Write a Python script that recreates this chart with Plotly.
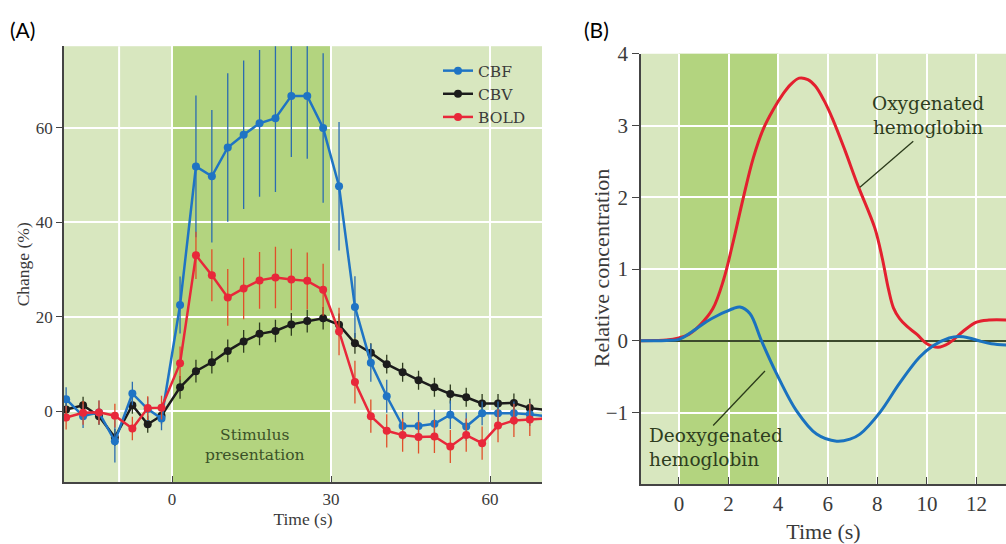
import plotly.graph_objects as go

# ---------------- Panel A data ----------------
time_a = [-20, -16.8, -13.8, -10.8, -7.5, -4.6, -2, 1.5, 4.5, 7.5, 10.5, 13.5, 16.5, 19.5,
          22.5, 25.5, 28.5, 31.5, 34.5, 37.5, 40.5, 43.5, 46.5, 49.5, 52.5, 55.5, 58.5,
          61.5, 64.5, 67.5, 70.5]
cbf = [2.6, -1.0, -0.2, -6.3, 3.8, 0.5, -1.5, 22.5, 51.8, 49.7, 55.8, 58.5, 60.9, 62.0,
       66.7, 66.7, 59.9, 47.6, 22.1, 10.3, 3.2, -3.1, -3.1, -2.6, -0.7, -3.2, -0.4,
       -0.4, -0.4, -0.6, -1.0]
cbf_err = [2.5, 2.5, 2.5, 4.5, 2.5, 2.5, 2.5, 6, 15, 14, 15.7, 15.7, 15.5, 15.6,
           12.9, 13.3, 15.8, 13.6, 6.5, 4, 3.5, 3, 3, 3, 3, 3, 2.5, 2.5, 2.5, 2.5, 2.5]
cbv = [0.4, 1.3, -1.0, -5.5, 1.3, -2.7, -0.9, 5.1, 8.5, 10.4, 12.8, 14.8, 16.4, 17.0,
       18.4, 19.1, 19.7, 18.3, 14.4, 12.4, 10.0, 8.3, 6.6, 5.1, 3.7, 3.0, 1.7,
       1.7, 1.8, 0.7, 0.3]
cbv_err = [1.8, 1.8, 1.8, 1.8, 1.8, 1.8, 1.8, 2.4, 2.4, 2.4, 2.4, 2.4, 2.4, 2.4,
           2.4, 2.4, 2.4, 2.4, 2.2, 2.0, 2.0, 2.0, 2.0, 2.0, 2.0, 2.0, 2.0, 2.0, 2.0, 2.0, 2.0]
bold = [-1.3, -0.3, -0.2, -0.9, -3.6, 0.7, 0.8, 10.2, 33.0, 28.8, 24.1, 26.0, 27.7, 28.3,
        27.9, 27.6, 25.7, 16.9, 6.2, -1.0, -4.1, -5.0, -5.4, -5.3, -7.4, -5.0, -6.7,
        -3.0, -1.9, -1.7, -1.5]
bold_err = [2.5, 2.5, 2.5, 2.5, 2.5, 2.5, 2.5, 3.5, 5, 5.5, 6, 6.5, 6, 6.5,
            6.5, 6, 5.5, 5, 4.5, 3.5, 3.5, 3.5, 3.5, 3.5, 3.5, 3.5, 3.5, 3.5, 3.5, 3.5, 3.5]
series_names = ["CBF", "CBV", "BOLD"]
xticks_a = [0, 30, 60]
yticks_a = [0, 20, 40, 60]

# ---------------- Panel B data ----------------
time_oxy = [-1.6, -1.0, -0.5, 0, 0.4, 0.85, 1.37, 1.8, 2.2, 2.6, 3.0, 3.4, 3.8, 4.2, 4.5,
            4.85, 5.2, 5.5, 5.85, 6.2, 6.7, 7.2, 7.9, 8.2, 8.45, 8.65, 8.9, 9.2, 9.6, 10.0,
            10.45, 10.9, 11.45, 12.0, 12.5, 13.3]
oxy = [0.0, 0.005, 0.01, 0.04, 0.09, 0.22, 0.45, 0.85, 1.4, 2.0, 2.55, 2.95, 3.22, 3.44, 3.57,
       3.66, 3.64, 3.55, 3.35, 3.09, 2.65, 2.18, 1.57, 1.15, 0.72, 0.46, 0.31, 0.2, 0.09, -0.04,
       -0.09, -0.03, 0.13, 0.26, 0.29, 0.29]
time_deoxy = [-1.6, -1.0, -0.5, 0, 0.5, 1.12, 1.6, 1.92, 2.2, 2.46, 2.86, 3.33, 3.94, 4.75,
              5.55, 6.36, 6.9, 7.3, 8.1, 8.9, 9.7, 10.25, 10.9, 11.3, 11.7, 12.1, 12.6, 13.3]
deoxy = [0.0, 0.0, 0.005, 0.02, 0.12, 0.27, 0.36, 0.41, 0.45, 0.47, 0.38, 0.0, -0.46, -0.98,
         -1.3, -1.4, -1.37, -1.3, -1.0, -0.59, -0.23, -0.07, 0.04, 0.06, 0.04, 0.0, -0.04, -0.06]
xticks_b = [0, 2, 4, 6, 8, 10, 12]
yticks_b = [-1, 0, 1, 2, 3, 4]
yticktext_b = ["\u22121", "0", "1", "2", "3", "4"]

SERIF = "Liberation Serif"
SERIF2 = "DejaVu Serif"
LIGHT = "#d8e7bf"
DARK = "#b3d47f"
TXT = "#3a3a3a"
AX = "#444444"

fig = go.Figure()

def add_series(y, err, name, color, ecolor, rank):
    fig.add_trace(go.Scatter(
        x=time_a, y=y, name=name, mode="lines+markers",
        line=dict(color=color, width=2.5),
        marker=dict(color=color, size=8),
        error_y=dict(type="data", array=err, visible=True, color=ecolor,
                     thickness=1.3, width=0),
        legendrank=rank, xaxis="x", yaxis="y"))

add_series(cbv, cbv_err, series_names[1], "#1c1c1c", "#2e3a1e", 2)
add_series(cbf, cbf_err, series_names[0], "#1f74c4", "#2b6cb0", 1)
add_series(bold, bold_err, series_names[2], "#e8283a", "#e0502a", 3)

fig.add_trace(go.Scatter(x=time_oxy, y=oxy, mode="lines", showlegend=False,
                         line=dict(color="#e3202f", width=3, shape="spline", smoothing=1.0),
                         xaxis="x2", yaxis="y2", name="Oxygenated hemoglobin"))
fig.add_trace(go.Scatter(x=time_deoxy, y=deoxy, mode="lines", showlegend=False,
                         line=dict(color="#1a72bf", width=3, shape="spline", smoothing=1.0),
                         xaxis="x2", yaxis="y2", name="Deoxygenated hemoglobin"))

shapes = [
    dict(type="rect", xref="x", yref="y domain", x0=0, x1=30, y0=0, y1=1,
         fillcolor=DARK, line=dict(width=0), layer="below"),
    dict(type="line", xref="x", yref="y domain", x0=-10, x1=-10, y0=0, y1=1,
         line=dict(color="white", width=2), layer="below"),
    dict(type="rect", xref="x2", yref="y2 domain", x0=0, x1=4, y0=0, y1=1,
         fillcolor=DARK, line=dict(width=0), layer="below"),
    dict(type="line", xref="x2", yref="y2", x0=7.3, y0=2.14, x1=9.45, y1=2.78,
         line=dict(color="#2a3a1a", width=1.3)),
    dict(type="line", xref="x2", yref="y2", x0=1.38, y0=-1.18, x1=3.47, y1=-0.42,
         line=dict(color="#2a3a1a", width=1.3)),
]

ann_font = dict(family=SERIF2, size=18.5, color="#2e3d20")
annotations = [
    dict(text="(A)", xref="paper", yref="paper", x=0.008, y=1 - 18 / 544, xanchor="left",
         yanchor="middle", showarrow=False, font=dict(family="Lato", size=21, color="black")),
    dict(text="(B)", xref="paper", yref="paper", x=582 / 1006, y=1 - 18 / 544, xanchor="left",
         yanchor="middle", showarrow=False, font=dict(family="Lato", size=21, color="black")),
    dict(text="Stimulus<br>presentation", xref="x", yref="y", x=15.7, y=-7.2, showarrow=False,
         align="center", font=dict(family=SERIF2, size=15.5, color="#3b5228")),
    dict(text="Oxygenated<br>hemoglobin", xref="x2", yref="y2", x=10.04, y=3.135,
         showarrow=False, align="center", font=ann_font),
    dict(text="Deoxygenated<br>hemoglobin", xref="x2", yref="y2", x=-1.29, y=-1.48,
         xanchor="left", showarrow=False, align="left", font=ann_font),
    dict(text="Relative concentration", xref="paper", yref="paper", x=601 / 1006,
         y=1 - 262 / 544, xanchor="center", yanchor="middle", textangle=-90,
         showarrow=False, font=dict(family=SERIF, size=22, color=TXT)),
]

common_axis = dict(showline=True, linecolor=AX, linewidth=1.5, tickcolor=AX,
                   showgrid=True, gridcolor="white", gridwidth=2, zeroline=False)

fig.update_layout(
    width=1006, height=544,
    margin=dict(l=0, r=0, t=0, b=0),
    paper_bgcolor="white", plot_bgcolor=LIGHT,
    showlegend=True,
    legend=dict(x=438 / 1006, y=1 - 43 / 544, xanchor="left", yanchor="top",
                bgcolor="rgba(0,0,0,0)", font=dict(family=SERIF2, size=15.5, color=TXT),
                itemwidth=30, tracegroupgap=0),
    xaxis=dict(domain=[64 / 1006, 542 / 1006], anchor="y", range=[-20.4, 69.8],
               tickvals=xticks_a, ticks="inside", ticklen=7,
               tickfont=dict(family=SERIF, size=17, color=TXT),
               title=dict(text="Time (s)", font=dict(family=SERIF, size=17.5, color=TXT), standoff=2),
               **common_axis),
    yaxis=dict(domain=[(544 - 481) / 544, (544 - 35) / 544], anchor="x", range=[-15, 77.2],
               tickvals=yticks_a, ticks="outside", ticklen=6,
               tickfont=dict(family=SERIF, size=17, color=TXT),
               title=dict(text="Change (%)", font=dict(family=SERIF, size=17.5, color=TXT), standoff=2),
               **common_axis),
    xaxis2=dict(domain=[641 / 1006, 1.0], anchor="y2", range=[-1.53, 13.19],
                tickvals=xticks_b, ticks="inside", ticklen=8,
                tickfont=dict(family=SERIF, size=21, color=TXT),
                title=dict(text="Time (s)", font=dict(family=SERIF, size=22, color=TXT), standoff=10),
                **common_axis),
    yaxis2=dict(domain=[(544 - 483) / 544, (544 - 42.7) / 544], anchor="x2", range=[-2, 4],
                tickvals=yticks_b, ticktext=yticktext_b, ticks="outside", ticklen=7,
                tickfont=dict(family=SERIF, size=21, color=TXT),
                showline=True, linecolor=AX, linewidth=1.5, tickcolor=AX,
                showgrid=True, gridcolor="white", gridwidth=2,
                zeroline=True, zerolinecolor="#3c4a2c", zerolinewidth=1.5),
    shapes=shapes,
    annotations=annotations,
)

fig.write_html("out.html")
